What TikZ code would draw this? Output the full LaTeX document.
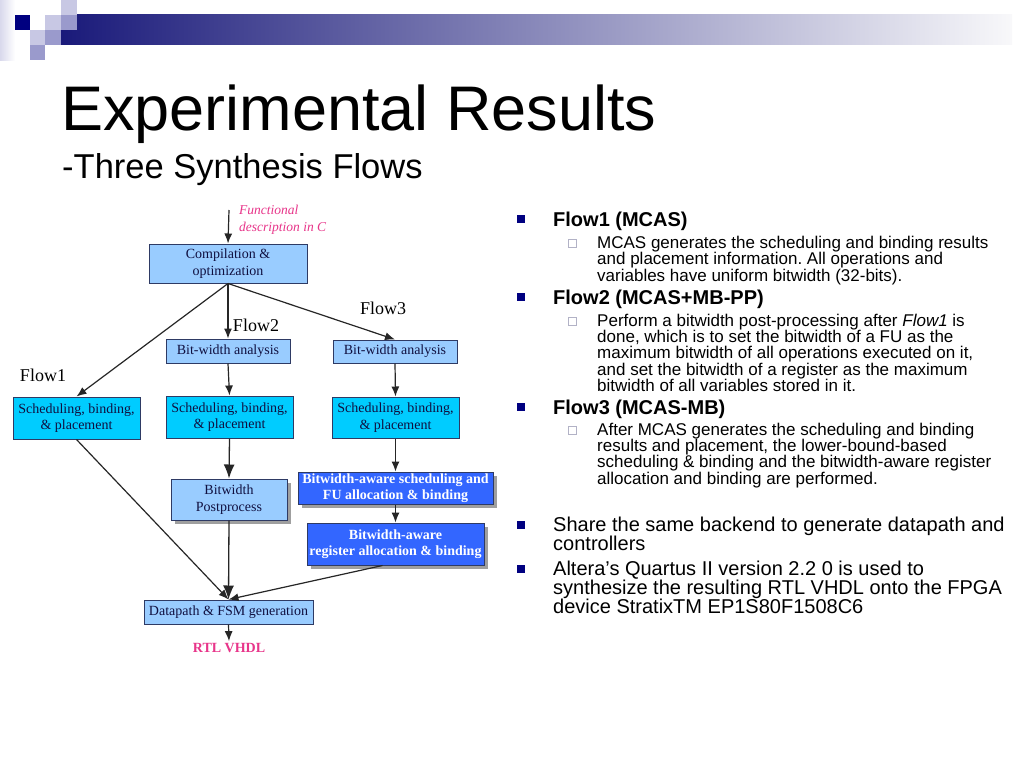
\documentclass[tikz,border=0pt]{standalone}
\usepackage{fontspec}
\setmainfont{Liberation Serif}
\newfontfamily\arial{Liberation Sans}
\usetikzlibrary{arrows.meta,shadows}
\frenchspacing
\definecolor{lb}{HTML}{99CCFF}
\definecolor{cy}{HTML}{00CCFF}
\definecolor{rb}{HTML}{3366FF}
\definecolor{bord}{HTML}{2E3A64}
\definecolor{txt}{HTML}{101040}
\definecolor{pnk}{HTML}{E8358A}
\definecolor{nvy}{HTML}{000080}
\definecolor{lav}{HTML}{C8C8E4}
\definecolor{med}{HTML}{9A9ACC}
\definecolor{barL}{HTML}{1A1A7A}
\definecolor{barM}{HTML}{A8A8BC}
\definecolor{barR}{HTML}{F8F8FA}
\tikzset{
  fbox/.style={draw=bord, line width=1pt, fill=lb, text=txt, align=center, inner sep=0pt,
    font=\fontsize{14}{16.5}\selectfont},
  cbox/.style={fbox, fill=cy},
  bbox/.style={fbox, fill=rb, text=white, font=\bfseries\fontsize{14}{16.5}\selectfont},
  shad/.style={drop shadow={shadow xshift=4pt, shadow yshift=-4pt, fill=gray!75, opacity=1}},
  arr/.style={-{Latex[length=10pt,width=8pt]}, line width=1.2pt, draw=black!85},
  bigarr/.style={-{Latex[length=14pt,width=11pt]}, line width=1.3pt, draw=black!85},
  flowlbl/.style={font=\fontsize{18}{20}\selectfont, inner sep=0pt},
  head/.style={anchor=base west, inner sep=0pt, font=\arial\bfseries\fontsize{20}{20}\selectfont},
  subl/.style={anchor=base west, inner sep=0pt, font=\arial\fontsize{17}{17}\selectfont},
  mainl/.style={anchor=base west, inner sep=0pt, font=\arial\fontsize{20}{20}\selectfont},
  bul/.style={fill=nvy, minimum size=7.5pt, inner sep=0pt},
  sbul/.style={draw=lav!70!gray, fill=white, line width=0.6pt, minimum size=8pt, inner sep=0pt},
}
\begin{document}
\begin{tikzpicture}[x=1pt,y=-1pt]
\useasboundingbox (0,0) rectangle (1024,768);
\fill[white] (0,0) rectangle (1024,768);
% --- header decoration
\shade[left color=lav!70, right color=white] (0,0) rectangle (15,60);
\shade[left color=barL, middle color=barM, right color=barR] (61,15) rectangle (1012,45);
\fill[nvy] (15,15) rectangle (30,30);
\fill[lav] (30,30) rectangle (45,45);
\fill[lav] (45,15) rectangle (61,30);
\fill[lav] (61,0) rectangle (77,15);
\fill[med] (61,15) rectangle (77,30);
\fill[med] (45,30) rectangle (61,45);
\fill[med] (30,45) rectangle (45,60);
% --- title
\node[anchor=base west, inner sep=0pt, font=\arial\fontsize{63}{63}\selectfont] (title) at (61,130) {Experimental Results};
\node[anchor=base west, inner sep=0pt, font=\arial\fontsize{34.5}{34.5}\selectfont] (subtitle) at (62,178) {-Three Synthesis Flows};
% --- flowchart
\node[anchor=west, inner sep=0pt, text=pnk, align=left, font=\itshape\fontsize{13.5}{17}\selectfont] (func) at (239,219.5) {Functional\\description in C};
\coordinate (fin) at (229,210);
\node[fbox, minimum width=158pt, minimum height=39pt] (comp) at (228,263.5) {Compilation \&\\optimization};
\node[fbox, minimum width=124pt, minimum height=24pt] (bw2) at (228,351) {Bit-width analysis};
\node[fbox, minimum width=124pt, minimum height=23pt] (bw3) at (395,351.5) {Bit-width analysis};
\node[cbox, minimum width=127pt, minimum height=42pt] (s1) at (76.5,418) {Scheduling, binding,\\\& placement};
\node[cbox, minimum width=127pt, minimum height=42pt] (s2) at (229.5,417) {Scheduling, binding,\\\& placement};
\node[cbox, minimum width=127pt, minimum height=41pt] (s3) at (395.5,417.5) {Scheduling, binding,\\\& placement};
\node[fbox, shad, minimum width=116pt, minimum height=41pt] (pp) at (229,499.5) {Bitwidth\\Postprocess};
\node[bbox, shad, minimum width=195pt, minimum height=32pt] (bws) at (395.5,488) {Bitwidth-aware scheduling and\\FU allocation \& binding};
\node[bbox, shad, minimum width=177pt, minimum height=42pt] (bwr) at (395.5,544) {Bitwidth-aware\\register allocation \& binding};
\node[fbox, minimum width=169pt, minimum height=24pt] (dp) at (228.5,612) {Datapath \& FSM generation};
\node[inner sep=2pt, text=pnk, font=\bfseries\fontsize{14}{16}\selectfont] (rtl) at (229,648) {RTL VHDL};
\node[flowlbl] (fl1) at (43,375) {Flow1};
\node[flowlbl] (fl2) at (256,325) {Flow2};
\node[flowlbl] (fl3) at (383,308) {Flow3};
\draw[arr] (fin) -- (comp.north);
\draw[arr] (comp.south) -- (s1.north);
\draw[arr] (comp.south) -- (bw2.north);
\draw[arr] (comp.south) -- (bw3.north);
\draw[arr] (bw2.south) -- (s2.north);
\draw[bigarr] (s2.south) -- (pp.north);
\draw[bigarr] (pp.south) -- (dp.north);
\draw[arr] (s1.south) -- (dp.north);
\draw[arr] ([xshift=-13pt]bwr.south) -- (dp.north);
\draw[arr] (bw3.south) -- (s3.north);
\draw[arr] (s3.south) -- (bws.north);
\draw[arr] (bws.south) -- (bwr.north);
\draw[arr] (dp.south) -- (rtl.north);
% --- right text
\node[bul] (b1) at (521,219) {};
\node[head] (h1) at (553,226) {Flow1 (MCAS)};
\node[sbul] (sb1) at (572,243) {};
\node[subl] (t11) at (597,248) {MCAS generates the scheduling and binding results};
\node[subl] (t12) at (597,264.5) {and placement information. All operations and};
\node[subl] (t13) at (597,281) {variables have uniform bitwidth (32-bits).};
\node[bul] (b2) at (521,297) {};
\node[head] (h2) at (553,304) {Flow2 (MCAS+MB-PP)};
\node[sbul] (sb2) at (572,321) {};
\node[subl] (t21) at (597,326) {Perform a bitwidth post-processing after \textit{Flow1} is};
\node[subl] (t22) at (597,342) {done, which is to set the bitwidth of a FU as the};
\node[subl] (t23) at (597,358.5) {maximum bitwidth of all operations executed on it,};
\node[subl] (t24) at (597,375) {and set the bitwidth of a register as the maximum};
\node[subl] (t25) at (597,391) {bitwidth of all variables stored in it.};
\node[bul] (b3) at (521,407) {};
\node[head] (h3) at (553,414) {Flow3 (MCAS-MB)};
\node[sbul] (sb3) at (572,430) {};
\node[subl] (t31) at (597,435) {After MCAS generates the scheduling and binding};
\node[subl] (t32) at (597,451) {results and placement, the lower-bound-based};
\node[subl] (t33) at (597,467.5) {scheduling \& binding and the bitwidth-aware register};
\node[subl] (t34) at (597,484) {allocation and binding are performed.};
\node[bul] (b4) at (521,525) {};
\node[mainl] (m11) at (553,531) {Share the same backend to generate datapath and};
\node[mainl] (m12) at (553,550) {controllers};
\node[bul] (b5) at (521,569) {};
\node[mainl] (m21) at (553,575) {Altera’s Quartus II version 2.2 0 is used to};
\node[mainl] (m22) at (553,594) {synthesize the resulting RTL VHDL onto the FPGA};
\node[mainl] (m23) at (553,613) {device StratixTM EP1S80F1508C6};
\end{tikzpicture}
\end{document}
